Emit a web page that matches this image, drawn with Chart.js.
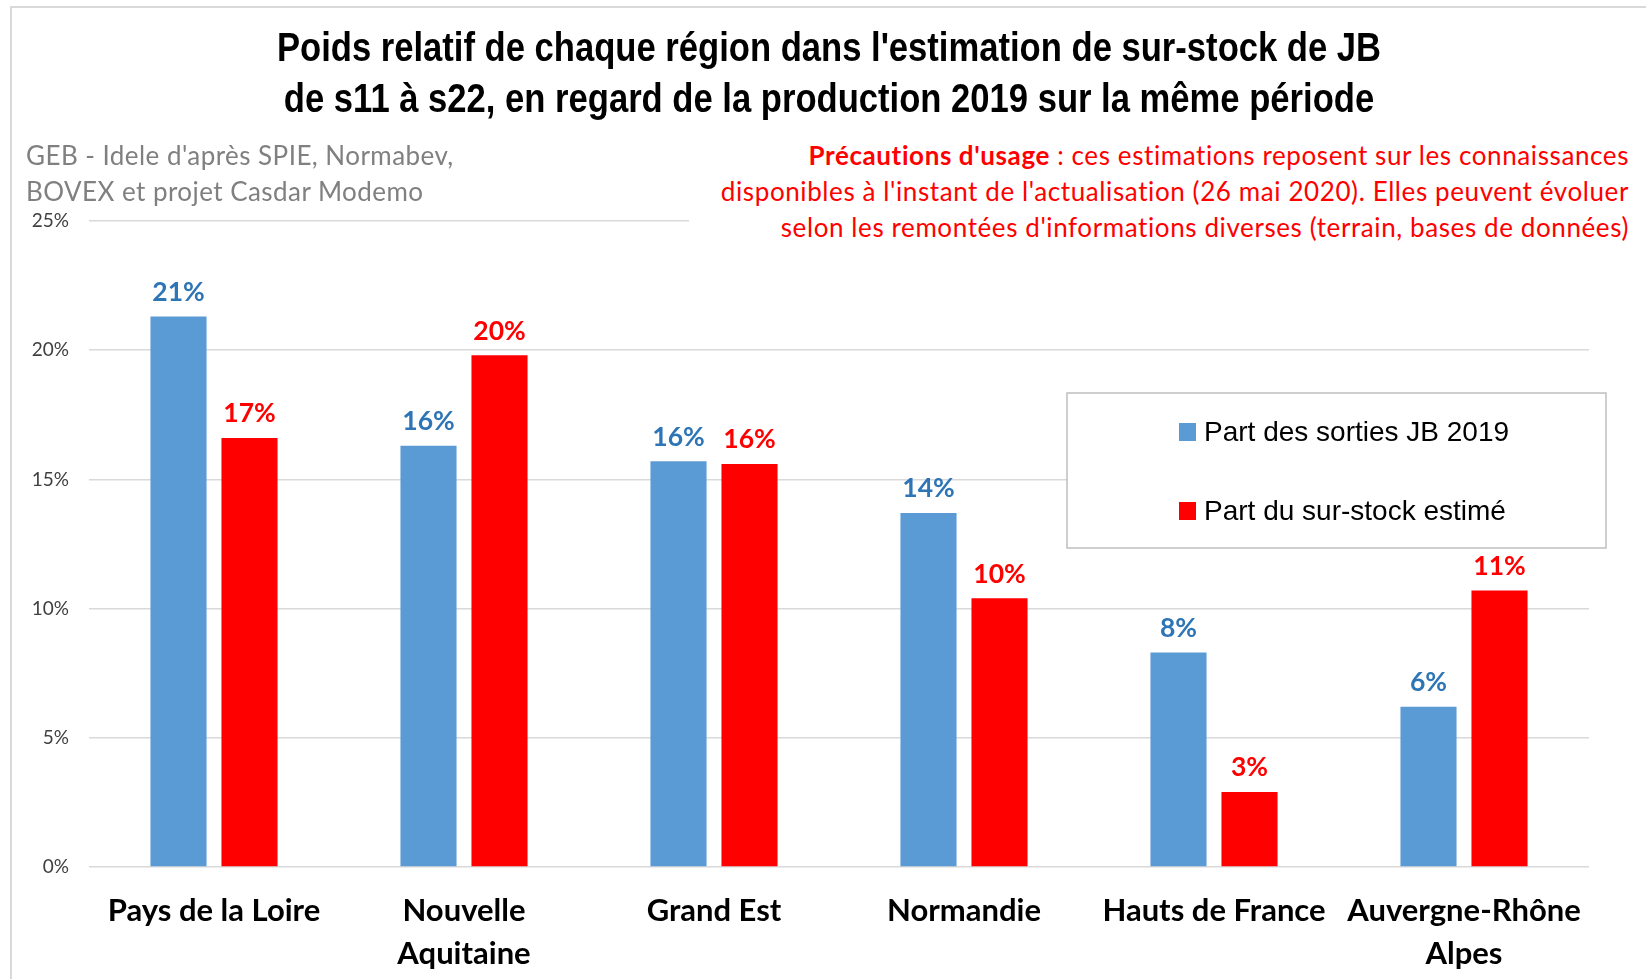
<!DOCTYPE html>
<html lang="fr">
<head>
<meta charset="utf-8">
<title>Poids relatif de chaque région</title>
<script src="https://cdn.jsdelivr.net/npm/chart.js@4.4.1/dist/chart.umd.min.js"></script>
<style>
    html, body { margin: 0; padding: 0; background: #fff; }
    #frame {
        position: absolute; left: 0; top: 0; width: 1646px; height: 979px;
        overflow: hidden; background: #fff;
    }
    #frame::before {   /* grey frame lines, top and left */
        content: ''; position: absolute; left: 10px; top: 6px; right: 0; bottom: 0;
        border-top: 2px solid #d9d9d9; border-left: 2px solid #d9d9d9;
    }
    #chartBox { position: absolute; left: 12px; top: 0; width: 1634px; height: 979px; }
    .note {
        position: absolute; font-family: Lato, sans-serif; font-size: 26px;
        line-height: 36px; white-space: nowrap;
    }
    #source { left: 26px; top: 137px; color: #808080; letter-spacing: 0.45px; }
    #caution { right: 17px; top: 137px; color: #ff0000; text-align: right;
               background: #fff; padding-left: 32px; letter-spacing: 0.6px; }
    #caution b { font-weight: 700; }
</style>
</head>
<body>
<div id="frame">
    <div id="chartBox"><canvas id="chart"></canvas></div>
    <div id="source" class="note">GEB - Idele d'après SPIE, Normabev,<br>BOVEX et projet Casdar Modemo</div>
    <div id="caution" class="note"><b>Précautions d'usage</b> : ces estimations reposent sur les connaissances<br>disponibles à l'instant de l'actualisation (26 mai 2020). Elles peuvent évoluer<br>selon les remontées d'informations diverses (terrain, bases de données)</div>
</div>

<script>
// ---- data (in %) ----
const regions = [
    'Pays de la Loire',
    ['Nouvelle', 'Aquitaine'],
    'Grand Est',
    'Normandie',
    'Hauts de France',
    ['Auvergne-Rhône', 'Alpes'],
];
const partSorties2019 = [21.3, 16.3, 15.7, 13.7, 8.3, 6.2];
const partSurStock    = [16.6, 19.8, 15.6, 10.4, 2.9, 10.7];
const yTicks = [0, 5, 10, 15, 20, 25];

const titleLines = [
    "Poids relatif de chaque région dans l'estimation de sur-stock de JB",
    "de s11 à s22, en regard de la production 2019 sur la même période",
];

const BLUE = '#5b9bd5';
const RED = '#ff0000';
const labelColors = ['#2e75b6', '#ff0000'];

// condensed bold title (no narrow font installed, so squeeze it horizontally)
const narrowTitle = {
    id: 'narrowTitle',
    afterDraw(chart) {
        const ctx = chart.ctx;
        const squeeze = 0.865;
        ctx.save();
        ctx.font = "bold 40px 'Liberation Sans', Arial, sans-serif";
        ctx.fillStyle = '#000';
        ctx.textAlign = 'center';
        ctx.textBaseline = 'middle';
        ctx.translate(chart.width / 2, 0);
        ctx.scale(squeeze, 1);
        titleLines.forEach((line, i) => ctx.fillText(line, 0, 50 + i * 50.5));
        ctx.restore();
    }
};

// value labels above each bar (rounded, like the Excel labels)
const valueLabels = {
    id: 'valueLabels',
    afterDatasetsDraw(chart) {
        const ctx = chart.ctx;
        ctx.save();
        ctx.font = "bold 26.5px Lato, sans-serif";
        ctx.textAlign = 'center';
        ctx.textBaseline = 'bottom';
        chart.data.datasets.forEach((ds, i) => {
            ctx.fillStyle = labelColors[i];
            chart.getDatasetMeta(i).data.forEach((bar, j) => {
                ctx.fillText(Math.round(ds.data[j]) + '%', bar.x, bar.y - 11);
            });
        });
        ctx.restore();
    }
};

// boxed legend sitting over the right part of the plot
const boxLegend = {
    id: 'boxLegend',
    afterDraw(chart) {
        const ctx = chart.ctx;
        const area = chart.chartArea;
        const w = 539, h = 155;
        const x0 = area.right + 17 - w;
        const y0 = area.top + 172;
        ctx.save();
        ctx.fillStyle = '#fff';
        ctx.fillRect(x0, y0, w, h);
        ctx.strokeStyle = '#bfbfbf';
        ctx.lineWidth = 1.5;
        ctx.strokeRect(x0, y0, w, h);
        ctx.font = "28px 'Liberation Sans', Arial, sans-serif";
        ctx.textBaseline = 'middle';
        ctx.textAlign = 'left';
        chart.data.datasets.forEach((ds, i) => {
            const cy = y0 + 39 + i * 79;
            ctx.fillStyle = ds.backgroundColor;
            ctx.fillRect(x0 + 112, cy - 9, 17, 18);
            ctx.fillStyle = '#000';
            ctx.fillText(ds.label, x0 + 137, cy + 1);
        });
        ctx.restore();
    }
};

new Chart(document.getElementById('chart'), {
    type: 'bar',
    data: {
        labels: regions,
        datasets: [
            { label: 'Part des sorties JB 2019', data: partSorties2019, backgroundColor: BLUE },
            { label: 'Part du sur-stock estimé', data: partSurStock, backgroundColor: RED },
        ],
    },
    options: {
        responsive: true,
        maintainAspectRatio: false,
        animation: false,
        categoryPercentage: 0.568,
        barPercentage: 0.79,
        layout: { padding: { left: 0, right: 57, top: 221, bottom: 0 } },
        scales: {
            x: {
                grid: { display: false, drawTicks: false },
                border: { display: false },
                ticks: {
                    color: '#000',
                    padding: 22,
                    maxRotation: 0,
                    autoSkip: false,
                    font: { family: 'Lato, sans-serif', size: 31, weight: 'bold', lineHeight: '43px' },
                },
                afterFit(scale) { scale.height = 112; },
            },
            y: {
                min: 0,
                max: 25,
                afterBuildTicks(scale) { scale.ticks = yTicks.map(v => ({ value: v })); },
                grid: { color: '#d9d9d9', lineWidth: 1.5, drawTicks: false },
                border: { display: false },
                ticks: {
                    color: '#404040',
                    padding: 20,
                    font: { family: 'Lato, sans-serif', size: 19 },
                    callback: v => v + '%',
                },
                afterFit(scale) { scale.width = 77; },
            },
        },
        plugins: {
            legend: { display: false },
            tooltip: { enabled: false },
            title: { display: false },
        },
    },
    plugins: [valueLabels, boxLegend, narrowTitle],
});
</script>
</body>
</html>
